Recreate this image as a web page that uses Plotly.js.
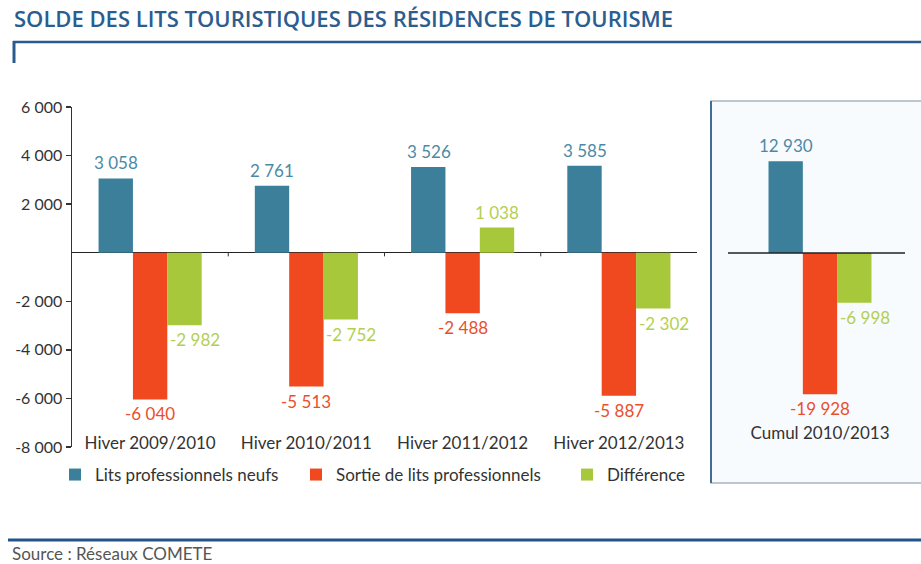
<!DOCTYPE html>
<html>
<head>
<meta charset="utf-8">
<script src="https://cdn.plot.ly/plotly-3.0.1.min.js"></script>
<style>
  html, body { margin: 0; padding: 0; background: #ffffff; }
  #chart { width: 921px; height: 564px; }
</style>
</head>
<body>
<div id="chart"></div>
<script>
// ---- data ----
const categories = ['Hiver 2009/2010', 'Hiver 2010/2011', 'Hiver 2011/2012', 'Hiver 2012/2013'];
const litsNeufs = [3058, 2761, 3526, 3585];
const sortieLits = [-6040, -5513, -2488, -5887];
const difference = [-2982, -2752, 1038, -2302];

const cumulCategory = ['Cumul 2010/2013'];
const cumulNeufs = [12930];
const cumulSortie = [-19928];
const cumulDifference = [-6998];

const seriesNames = ['Lits professionnels neufs', 'Sortie de lits professionnels', 'Différence'];
const yTickValues = [-8000, -6000, -4000, -2000, 2000, 4000, 6000];
const yTickLabels = ['-8 000', '-6 000', '-4 000', '-2 000', '2 000', '4 000', '6 000'];

// ---- style ----
const W = 921, H = 564;
const px = v => v / W;
const py = v => 1 - v / H;
const colors = ['#3b7f9b', '#f0491f', '#a7c83b'];
const labelColors = ['#4a8aa6', '#ea4f2c', '#b3cf52'];
const FONT = 'Lato, "Open Sans", sans-serif';

function fmt(v) {
  const s = Math.abs(v).toString().replace(/\B(?=(\d{3})+(?!\d))/g, ' ');
  return (v < 0 ? '-' : '') + s;
}

const traces = [
  { type: 'bar', x: categories, y: litsNeufs, name: seriesNames[0], marker: { color: colors[0] }, legend: 'legend', xaxis: 'x', yaxis: 'y', hoverinfo: 'skip' },
  { type: 'bar', x: categories, y: sortieLits, name: seriesNames[1], marker: { color: colors[1] }, legend: 'legend2', xaxis: 'x', yaxis: 'y', hoverinfo: 'skip' },
  { type: 'bar', x: categories, y: difference, name: seriesNames[2], marker: { color: colors[2] }, legend: 'legend3', xaxis: 'x', yaxis: 'y', hoverinfo: 'skip' },
  { type: 'bar', x: cumulCategory, y: cumulNeufs, name: seriesNames[0], marker: { color: colors[0] }, showlegend: false, xaxis: 'x2', yaxis: 'y2', hoverinfo: 'skip' },
  { type: 'bar', x: cumulCategory, y: cumulSortie, name: seriesNames[1], marker: { color: colors[1] }, showlegend: false, xaxis: 'x2', yaxis: 'y2', hoverinfo: 'skip' },
  { type: 'bar', x: cumulCategory, y: cumulDifference, name: seriesNames[2], marker: { color: colors[2] }, showlegend: false, xaxis: 'x2', yaxis: 'y2', hoverinfo: 'skip' }
];

// value labels
const annotations = [];
const BARPX = 34;
function addLabels(xs, ys, idx, xref, yref) {
  xs.forEach((c, i) => {
    const v = ys[i];
    let xshift = (idx - 1) * BARPX;
    if (idx === 2 && v < 0) xshift += 11;
    annotations.push({
      x: c, y: v, xref: xref, yref: yref, text: fmt(v), showarrow: false,
      xanchor: 'center', yanchor: v >= 0 ? 'bottom' : 'top',
      xshift: xshift, yshift: v >= 0 ? 3 : -2,
      font: { family: FONT, size: 17, color: labelColors[idx] }
    });
  });
}
addLabels(categories, litsNeufs, 0, 'x', 'y');
addLabels(categories, sortieLits, 1, 'x', 'y');
addLabels(categories, difference, 2, 'x', 'y');
addLabels(cumulCategory, cumulNeufs, 0, 'x2', 'y2');
addLabels(cumulCategory, cumulSortie, 1, 'x2', 'y2');
addLabels(cumulCategory, cumulDifference, 2, 'x2', 'y2');

annotations.push({
  x: px(10), y: py(553), xref: 'paper', yref: 'paper', xanchor: 'left', yanchor: 'middle',
  text: 'Source : Réseaux COMETE', showarrow: false,
  font: { family: FONT, size: 17, color: '#555555' }
});

const shapes = [
  // cumul box
  { type: 'rect', xref: 'paper', yref: 'paper', x0: px(711), x1: px(930), y0: py(483), y1: py(101),
    line: { color: '#a9b5bf', width: 1.5 }, fillcolor: '#f8fbfe', layer: 'below' },
  { type: 'line', xref: 'paper', yref: 'paper', x0: px(711), x1: px(711), y0: py(483), y1: py(101),
    line: { color: '#3f6f96', width: 2 } },
  // title rule
  { type: 'line', xref: 'paper', yref: 'paper', x0: px(13), x1: px(921), y0: py(42), y1: py(42),
    line: { color: '#2b5a8c', width: 2.5 } },
  { type: 'line', xref: 'paper', yref: 'paper', x0: px(14), x1: px(14), y0: py(41), y1: py(63),
    line: { color: '#2b5a8c', width: 3 } },
  // bottom rule
  { type: 'line', xref: 'paper', yref: 'paper', x0: px(8), x1: px(921), y0: py(540), y1: py(540),
    line: { color: '#24528a', width: 3 } },
  // cumul zero line
  { type: 'line', xref: 'paper', yref: 'y2', x0: px(728), x1: px(905), y0: 0, y1: 0,
    line: { color: '#222222', width: 1.5 } }
];
// category boundary ticks on the main zero line
[0.5, 1.5, 2.5].forEach(b => {
  shapes.push({ type: 'line', xref: 'x', yref: 'y', x0: b, x1: b, y0: 0, y1: -150,
    line: { color: '#333333', width: 1 } });
});

const legendBase = {
  orientation: 'h', yanchor: 'middle', xanchor: 'left', y: py(475),
  font: { family: FONT, size: 17, color: '#333333' }, bgcolor: 'rgba(0,0,0,0)',
  itemwidth: 30, tracegroupgap: 0
};

const layout = {
  width: W, height: H,
  margin: { l: 0, r: 0, t: 0, b: 0 },
  paper_bgcolor: '#ffffff', plot_bgcolor: 'rgba(0,0,0,0)',
  barmode: 'group', bargap: 0.34, bargroupgap: 0,
  title: {
    text: 'SOLDE DES LITS TOURISTIQUES DES RÉSIDENCES DE TOURISME',
    x: px(14), xanchor: 'left', xref: 'paper', y: py(19), yanchor: 'middle', yref: 'paper',
    font: { family: '"Open Sans", Lato, sans-serif', size: 22, color: '#2b5d8f', weight: 600 }
  },
  xaxis: {
    type: 'category', domain: [px(72), px(697)], anchor: 'free', position: py(431),
    showline: false, showgrid: false, zeroline: false, ticks: '', ticklen: 0,
    tickfont: { family: FONT, size: 17, color: '#333333' }, fixedrange: true
  },
  yaxis: {
    domain: [py(447), py(107)], range: [-8000, 6000], anchor: 'x',
    tickvals: yTickValues, ticktext: yTickLabels,
    showline: true, linecolor: '#333333', linewidth: 1.5,
    ticks: 'outside', ticklen: 5, tickcolor: '#333333', tickwidth: 1.5,
    showgrid: false, zeroline: true, zerolinecolor: '#222222', zerolinewidth: 1.5,
    tickfont: { family: FONT, size: 16, color: '#333333' }, fixedrange: true
  },
  xaxis2: {
    type: 'category', domain: [px(742), px(898)], anchor: 'free', position: py(421),
    showline: false, showgrid: false, zeroline: false, ticks: '', ticklen: 0,
    tickfont: { family: FONT, size: 17, color: '#333333' }, fixedrange: true
  },
  yaxis2: {
    domain: [py(447), py(107)], range: [-27354, 20586], anchor: 'x2',
    visible: false, showgrid: false, zeroline: false, fixedrange: true
  },
  legend: Object.assign({}, legendBase, { x: px(55) }),
  legend2: Object.assign({}, legendBase, { x: px(296) }),
  legend3: Object.assign({}, legendBase, { x: px(567) }),
  annotations: annotations,
  shapes: shapes,
  showlegend: true
};

Plotly.newPlot('chart', traces, layout, { staticPlot: true, displayModeBar: false });
</script>
</body>
</html>
